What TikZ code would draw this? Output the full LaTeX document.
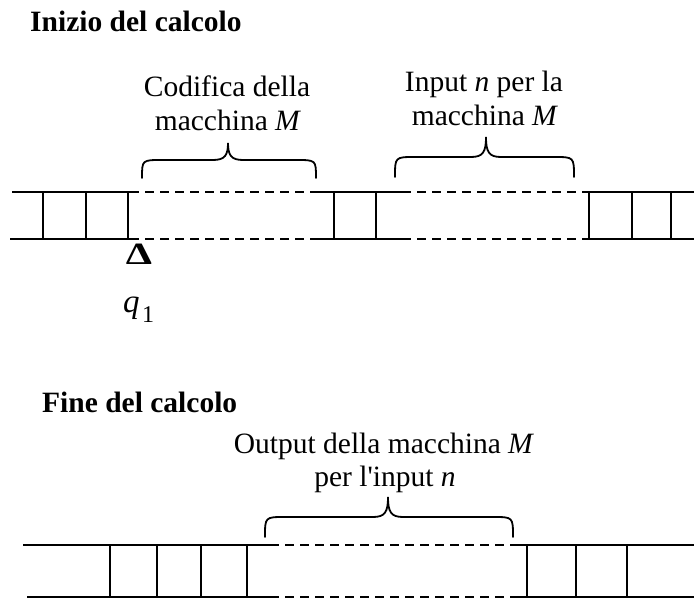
\documentclass[tikz,border=0pt]{standalone}
\usepackage{fontspec}
\setmainfont{Liberation Serif}[Ligatures=TeXOff]
\begin{document}
\begin{tikzpicture}[x=1pt,y=-1pt,
  tape/.style={line width=1.8pt},
  tapedash/.style={line width=1.8pt, dash pattern=on 9pt off 6pt},
  brace/.style={line width=1.8pt, line cap=round},
  lbl/.style={anchor=base, inner sep=0pt, font=\fontsize{29.5}{33}\selectfont},
  ttl/.style={anchor=base west, inner sep=0pt, font=\fontsize{29.5}{33}\selectfont\bfseries}]
\useasboundingbox (0,0) rectangle (694,599);
\newcommand\tapebrace[6]{%
  \draw[brace] (#1,#4) .. controls (#1,#5) .. (#1+20,#5) -- (#3-15,#5)
    .. controls (#3-3,#5) and (#3,#5-5) .. (#3,#6)
    .. controls (#3,#5-5) and (#3+3,#5) .. (#3+15,#5) -- (#2-20,#5)
    .. controls (#2,#5) .. (#2,#4);}
% titles
\node[ttl] (t1) at (30,32) {Inizio del calcolo};
\node[ttl] (t2) at (42,412) {Fine del calcolo};
% labels top
\node[lbl] (c1) at (227,97) {Codifica della};
\node[lbl] (c2) at (228,131) {macchina \textit{M}};
\node[lbl] (i1) at (484,92) {Input \textit{n} per la};
\node[lbl] (i2) at (485,126) {macchina \textit{M}};
% labels bottom
\node[lbl] (o1) at (384,453) {Output della macchina \textit{M}};
\node[lbl] (o2) at (385,486) {per l'input \textit{n}};
% head
\node[anchor=base, inner sep=0pt, font=\fontsize{31}{31}\selectfont\bfseries] (delta) at (139,265) {\scalebox{1.35}[1]{Δ}};
\node[anchor=base west, inner sep=0pt, font=\fontsize{33}{33}\selectfont] (q) at (123,312) {\textit{q}\kern2.5pt\raisebox{-10pt}{\fontsize{24}{24}\selectfont 1}};
% braces
\tapebrace{142}{316}{228}{178}{160}{143}
\tapebrace{395}{574}{486}{177}{157}{137}
\tapebrace{265}{513}{388}{537}{517}{497}
% top tape
\draw[tapedash] (130,192) -- (317,192) (130,239) -- (317,239);
\draw[tapedash] (402,192) -- (583,192) (402,239) -- (583,239);
\draw[tape] (12,192) -- (130,192) (10,239) -- (130,239);
\draw[tape] (317,192) -- (402,192) (317,239) -- (402,239);
\draw[tape] (583,192) -- (694,192) (583,239) -- (694,239);
\foreach \x in {43,86,128,334,376,589,632,671}
  \draw[tape] (\x,192) -- (\x,239);
% bottom tape
\draw[tapedash] (270,545) -- (514,545) (270,597) -- (514,597);
\draw[tape] (23,545) -- (270,545) (27,597) -- (270,597);
\draw[tape] (514,545) -- (694,545) (514,597) -- (694,597);
\foreach \x in {110,157,201,247,527,576,627}
  \draw[tape] (\x,545) -- (\x,597);
\end{tikzpicture}
\end{document}
